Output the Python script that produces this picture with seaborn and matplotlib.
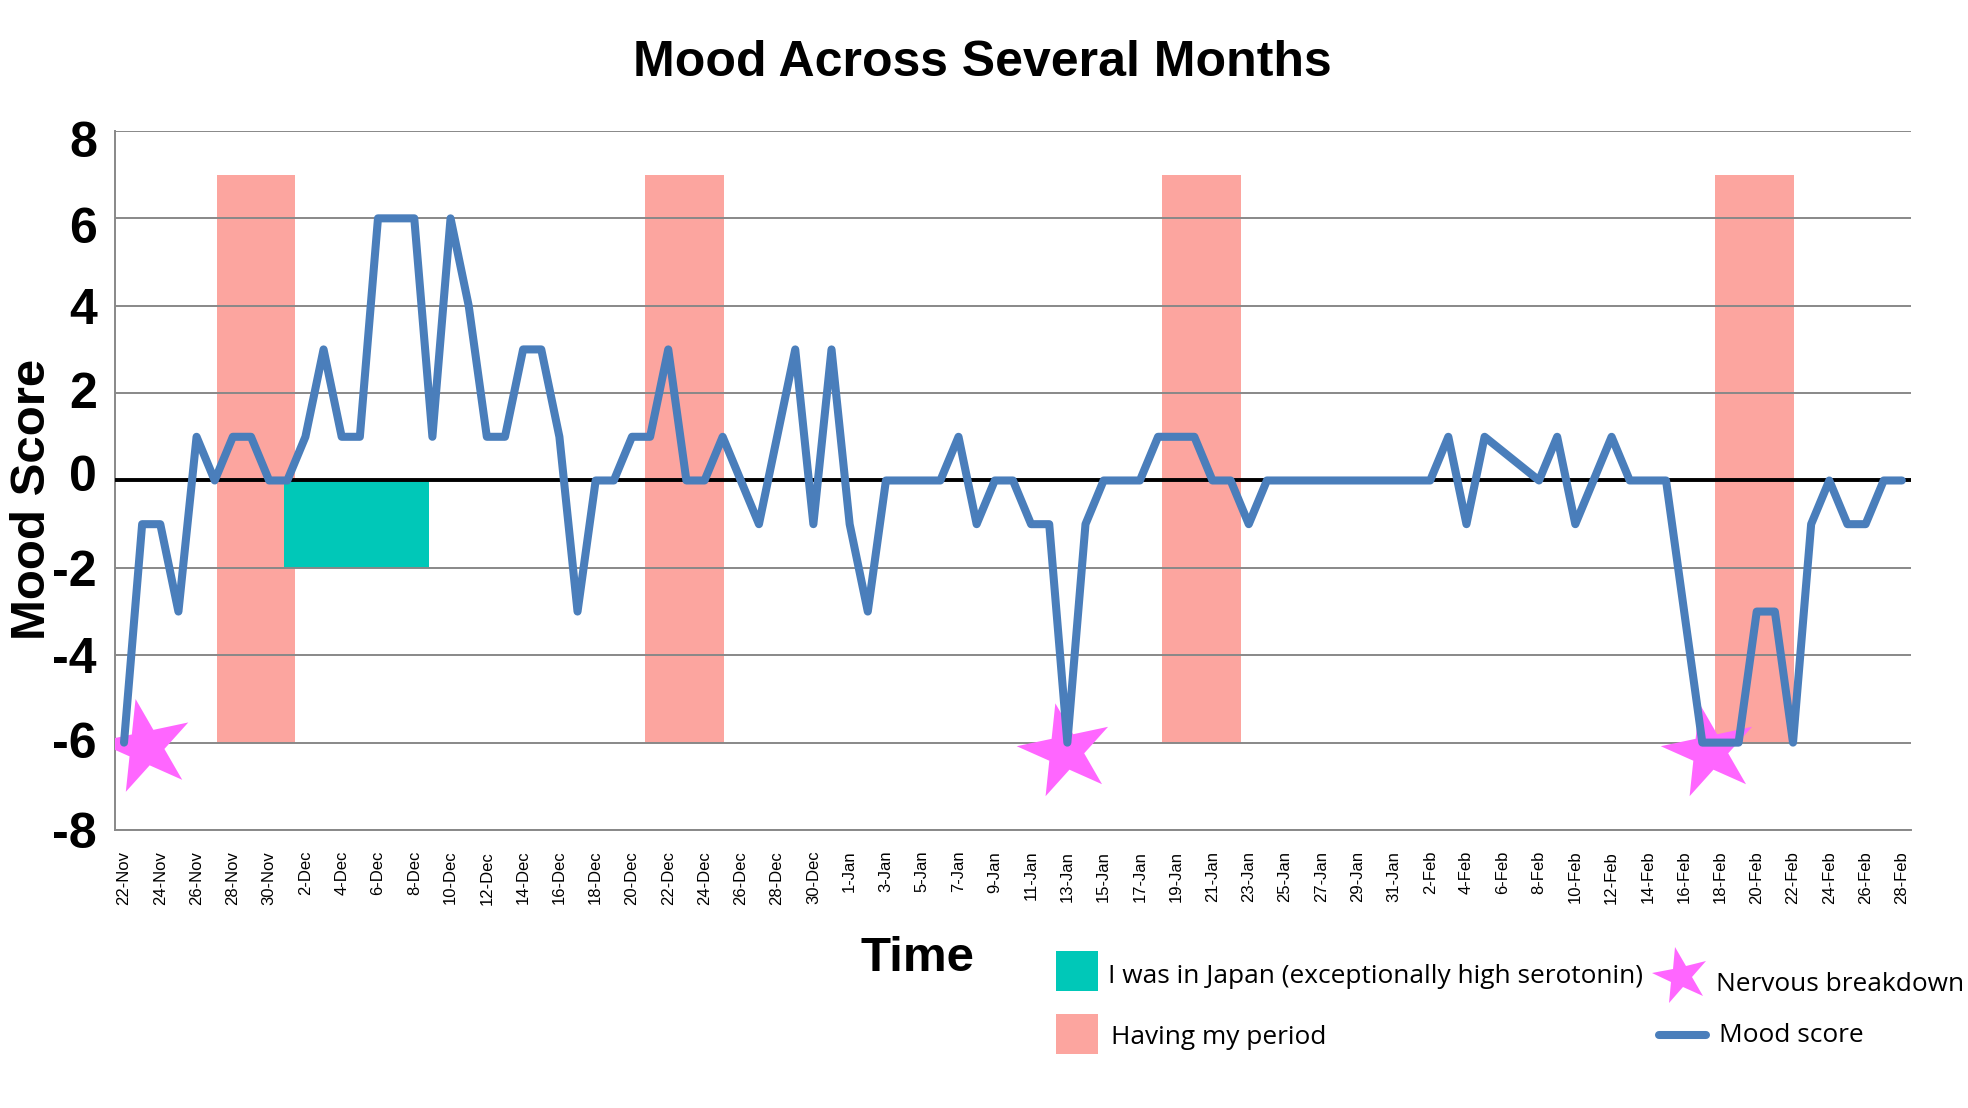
import pandas as pd
import matplotlib
matplotlib.use('Agg')
import matplotlib.pyplot as plt
import seaborn as sns
from matplotlib.markers import MarkerStyle
from matplotlib.transforms import Affine2D, ScaledTranslation
from matplotlib.patches import Rectangle
from matplotlib.lines import Line2D

# one point per day, 22-Nov to 28-Feb
dates = pd.date_range('2023-11-22', '2024-02-28', freq='D')
date_labels = [f"{d.day}-{d.strftime('%b')}" for d in dates]

mood = [-6, -1, -1, -3, 1, 0, 1, 1, 0, 0,          # 22-Nov .. 1-Dec
        1, 3, 1, 1, 6, 6, 6, 1, 6, 4,              # 2-Dec .. 11-Dec
        1, 1, 3, 3, 1, -3, 0, 0, 1, 1,             # 12-Dec .. 21-Dec
        3, 0, 0, 1, 0, -1, 1, 3, -1, 3,            # 22-Dec .. 31-Dec
        -1, -3, 0, 0, 0, 0, 1, -1, 0, 0,           # 1-Jan .. 10-Jan
        -1, -1, -6, -1, 0, 0, 0, 1, 1, 1,          # 11-Jan .. 20-Jan
        0, 0, -1, 0, 0, 0, 0, 0, 0, 0,             # 21-Jan .. 30-Jan
        0, 0, 0, 1, -1, 1, None, None, 0, 1,       # 31-Jan .. 9-Feb
        -1, 0, 1, 0, 0, 0, -3, -6, -6, -6,         # 10-Feb .. 19-Feb
        -3, -3, -6, -1, 0, -1, -1, 0, 0]           # 20-Feb .. 28-Feb

# period blocks (day index of left edge, length in days)
period_start = [5.1, 28.7, 57.2, 87.7]
period_days = [4.35, 4.35, 4.35, 4.35]
period_top = 7
period_bottom = -6

# Japan trip block
japan_start = 8.8
japan_end = 16.8
japan_low = -2

# nervous breakdowns
breakdown_day = [1.2, 51.9, 87.4]
breakdown_mood = [-6.1, -6.2, -6.2]

y_ticks = list(range(-8, 9, 2))

blue = '#4A7EBB'
pink = '#FCA59F'
teal = '#00C8B8'
magenta = '#FF66FF'
grey = '#888888'

sns.set_style('white')
plt.rcParams['font.family'] = ['Liberation Sans', 'DejaVu Sans']
plt.rcParams['text.color'] = 'black'
plt.rcParams['xtick.color'] = 'black'
plt.rcParams['ytick.color'] = 'black'
plt.rcParams['axes.unicode_minus'] = False

fig = plt.figure(figsize=(19.68, 11.08), dpi=100)
ax = fig.add_axes([0.0584, 0.2509, 0.9126, 0.6309])

ax.bar(period_start, [period_top - period_bottom] * len(period_start), width=period_days,
       bottom=period_bottom, align='edge', color=pink, linewidth=0, zorder=1)
ax.bar([japan_start], [-japan_low], width=[japan_end - japan_start], bottom=japan_low,
       align='edge', color=teal, linewidth=0, zorder=1.5)

ax.set_axisbelow(False)
ax.yaxis.grid(True, color=grey, linewidth=1.4)
ax.xaxis.grid(False)
ax.axhline(0, color='black', linewidth=2.8, zorder=3)

star = MarkerStyle('*', transform=Affine2D().rotate_deg(12))
sns.scatterplot(x=breakdown_day, y=breakdown_mood, ax=ax, marker=star, s=5000,
                color=magenta, edgecolor='none', linewidth=0, zorder=4)

df = pd.DataFrame({'day': range(len(mood)), 'mood': mood}).dropna()
sns.lineplot(data=df, x='day', y='mood', ax=ax, color=blue, linewidth=5.8,
             solid_joinstyle='round', solid_capstyle='round', zorder=5)

ax.set_xlim(-0.5, len(mood) - 0.5)
ax.set_ylim(-8, 8)
ax.set_yticks(y_ticks)
ax.set_yticklabels([str(v) for v in y_ticks], fontsize=36, fontweight='bold')
ax.tick_params(axis='y', length=0, pad=13)
# the value labels sit a little off their gridlines in the original
label_shift = [0, 3, 0, 0, 7, 3, 0, -7, -8]
for lbl, dy in zip(ax.get_yticklabels(), label_shift):
    lbl.set_transform(lbl.get_transform() + ScaledTranslation(0, dy / 100, fig.dpi_scale_trans))

ax.set_xticks(range(0, len(mood), 2))
ax.set_xticklabels(date_labels[::2], rotation=90, fontsize=12)
ax.set_xticks([i - 0.5 for i in range(0, len(mood), 2)], minor=True)
ax.tick_params(axis='x', which='major', length=0, pad=15)
ax.tick_params(axis='x', which='minor', length=8, direction='inout', color=grey, width=1.2)

for side in ['top', 'right']:
    ax.spines[side].set_visible(False)
for side in ['left', 'bottom']:
    ax.spines[side].set_color(grey)
    ax.spines[side].set_linewidth(1.4)
ax.set_xlabel('')
ax.set_ylabel('')

fig.text(0.499, 0.9435, 'Mood Across Several Months', ha='center', va='center',
         fontsize=36, fontweight='bold')
fig.text(0.0165, 0.549, 'Mood Score', ha='center', va='center', rotation=90,
         fontsize=35.5, fontweight='bold')
fig.text(0.466, 0.1345, 'Time', ha='center', va='center', fontsize=35.5, fontweight='bold')

# legend drawn by hand to match the two-column layout
leg_font = dict(fontsize=18.9, family=['Open Sans', 'DejaVu Sans'], va='center', ha='left')
fig.add_artist(Rectangle((0.5366, 0.1056), 0.0213, 0.0361, transform=fig.transFigure,
                         color=teal, linewidth=0))
fig.text(0.563, 0.1185, 'I was in Japan (exceptionally high serotonin)', **leg_font)
fig.add_artist(Rectangle((0.5366, 0.0487), 0.0213, 0.0361, transform=fig.transFigure,
                         color=pink, linewidth=0))
fig.text(0.5645, 0.0635, 'Having my period', **leg_font)
fig.add_artist(Line2D([0.854], [0.119], transform=fig.transFigure, marker=star,
                      markersize=42, color=magenta, markeredgewidth=0, linestyle='none'))
fig.text(0.872, 0.1115, 'Nervous breakdown', **leg_font)
fig.add_artist(Line2D([0.843, 0.867], [0.0659, 0.0659], transform=fig.transFigure,
                      color=blue, linewidth=5.8))
fig.text(0.8735, 0.0655, 'Mood score', **leg_font)

fig.savefig('out.png', dpi=100)
